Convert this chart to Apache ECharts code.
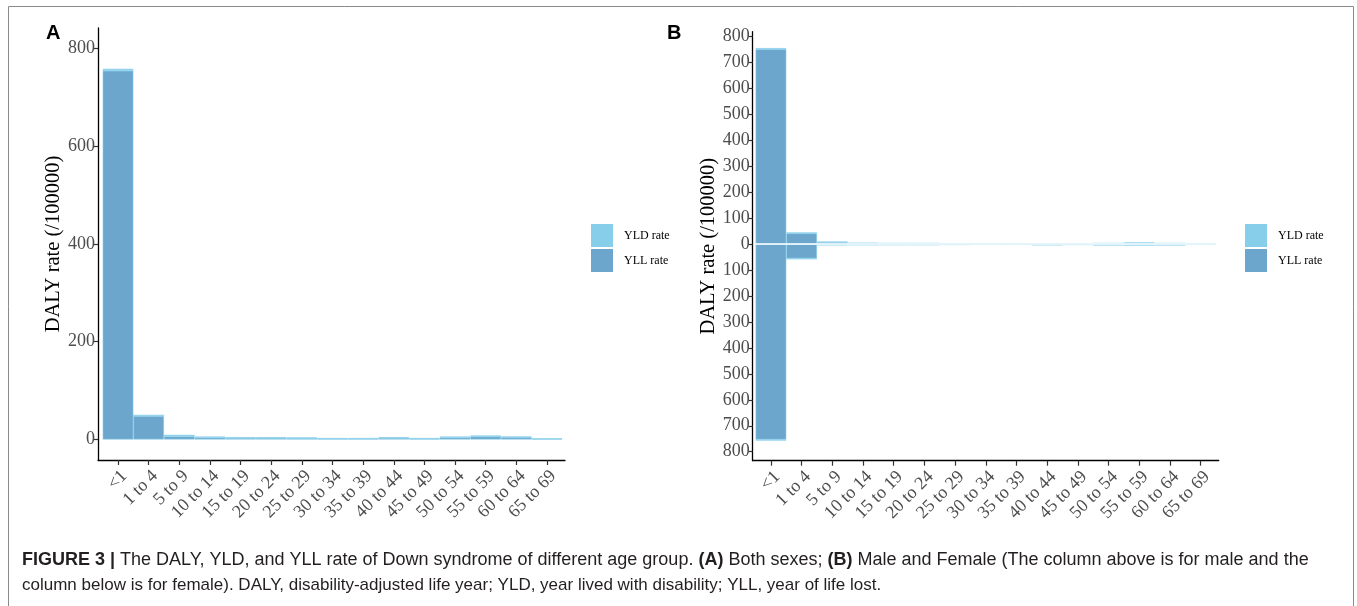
<!DOCTYPE html>
<html>
<head>
<meta charset="utf-8">
<script src="https://cdn.jsdelivr.net/npm/echarts@6/dist/echarts.min.js"></script>
<style>
html,body{margin:0;padding:0;background:#fff;}
#chart{width:1357px;height:606px;}
</style>
</head>
<body>
<div id="chart"></div>
<script>
// ---------- data ----------
const categories = ['<1','1 to 4','5 to 9','10 to 14','15 to 19','20 to 24','25 to 29','30 to 34','35 to 39','40 to 44','45 to 49','50 to 54','55 to 59','60 to 64','65 to 69'];
// Panel A: both sexes
const yllBoth = [754, 48, 6.5, 4, 3, 3, 2.5, 1.7, 1.7, 3, 1.7, 4, 6, 4.5, 1.2];
const yldBoth = [4, 2.5, 3, 2, 1.8, 1.8, 1.6, 1, 1, 1.8, 1, 2, 2.2, 1.6, 0.8];
// Panel B: male (above) and female (below, negative)
const yllMale = [752, 42, 7, 3, 2.5, 2.5, 1, 0.5, 0.8, 1.8, 1, 2.5, 4.5, 2.5, 0.2];
const yldMale = [4, 3, 3, 2, 1.5, 1.5, 1, 0.5, 0.7, 1.2, 1, 1.5, 1.5, 1.5, 0.1];
const yllFemale = [-753, -55, -2, -1.5, -1.5, -1.5, -1, -0.5, -0.8, -2, -1, -2.5, -3, -2.5, -0.2];
const yldFemale = [-4, -3, -1.5, -1.5, -1.2, -1.2, -1, -0.5, -0.7, -1.2, -1, -1.5, -1.5, -1.5, -0.1];
const yTicksA = [0, 800, 200];   // min, max, step
const yTicksB = [-800, 800, 100];
const legendNames = ['YLD rate', 'YLL rate'];
const axisTitle = 'DALY rate (/100000)';

// ---------- styles ----------
const C_YLD = '#87CEEB', C_YLL = '#6CA6CD';
const SERIF = 'Liberation Serif';
const tickLabel = {fontFamily: SERIF, fontSize: 18, color: '#4D4D4D'};

function frameX(gi){ return {gridIndex: gi, type: 'value', min: 0, max: 1,
  axisLine: {show: true, onZero: false, lineStyle: {color: '#000', width: 1.3}},
  axisTick: {show: false}, axisLabel: {show: false}, splitLine: {show: false}}; }
function frameY(gi){ return {gridIndex: gi, type: 'value', min: 0, max: 1,
  axisLine: {show: true, onZero: false, lineStyle: {color: '#000', width: 1.3}},
  axisTick: {show: false}, axisLabel: {show: false}, splitLine: {show: false},
  name: axisTitle, nameLocation: 'middle', nameGap: 34,
  nameTextStyle: {fontFamily: SERIF, fontSize: 20.5, color: '#000'}}; }
function catX(gi, off){ return {gridIndex: gi, type: 'category', data: categories, offset: off,
  axisLine: {show: false, onZero: false},
  axisTick: {show: true, alignWithLabel: true, length: 5, lineStyle: {color: '#333', width: 1.2}},
  axisLabel: Object.assign({interval: 0, rotate: 45, margin: 7, verticalAlign: 'top'}, tickLabel),
  splitLine: {show: false}}; }
function valY(gi, t, off, absLabels){ return {gridIndex: gi, type: 'value', min: t[0], max: t[1], interval: t[2], offset: off,
  axisLine: {show: false},
  axisTick: {show: true, length: 4, lineStyle: {color: '#333', width: 1.2}},
  axisLabel: Object.assign({margin: 3, formatter: v => absLabels ? String(Math.abs(v)) : String(v)}, tickLabel),
  splitLine: {show: false}}; }

function bar(name, data, xi, yi, stack, color, extra){
  return Object.assign({name, type: 'bar', data, xAxisIndex: xi, yAxisIndex: yi, stack,
    barCategoryGap: '0%', barGap: '0%',
    itemStyle: {color, borderColor: C_YLD, borderWidth: 0.6},
    emphasis: {disabled: true}, animation: false}, extra || {});
}

const legendBase = {orient: 'vertical', data: legendNames, icon: 'rect', itemWidth: 22, itemHeight: 23, itemGap: 2,
  padding: 0, selectedMode: false, itemStyle: {borderWidth: 0},
  textStyle: {fontFamily: SERIF, fontSize: 12, color: '#000', padding: [0, 0, 0, 6]}};

const option = {
  backgroundColor: '#fff',
  animation: false,
  grid: [
    {left: 98, top: 28, width: 467, height: 432},
    {left: 102.7, top: 48.3, width: 459.6, height: 391.2},
    {left: 752.7, top: 31.7, width: 466, height: 429},
    {left: 755.6, top: 36.7, width: 460.4, height: 415}
  ],
  xAxis: [frameX(0), catX(1, 20.5), frameX(2), catX(3, 9)],
  yAxis: [frameY(0), valY(1, yTicksA, 4.7, false), frameY(2), valY(3, yTicksB, 2.9, true)],
  legend: [
    Object.assign({left: 591, top: 224}, legendBase),
    Object.assign({left: 1245, top: 224}, legendBase)
  ],
  series: [
    bar('YLL rate', yllBoth, 1, 1, 'A', C_YLL),
    bar('YLD rate', yldBoth, 1, 1, 'A', C_YLD),
    bar('YLL rate', yllMale, 3, 3, 'B', C_YLL, {markLine: {silent: true, symbol: 'none', label: {show: false},
      lineStyle: {color: '#fff', width: 1.6, type: 'solid'}, data: [{yAxis: 0}]}}),
    bar('YLD rate', yldMale, 3, 3, 'B', C_YLD),
    bar('YLL rate', yllFemale, 3, 3, 'B', C_YLL),
    bar('YLD rate', yldFemale, 3, 3, 'B', C_YLD)
  ],
  graphic: [
    {type: 'rect', shape: {x: 8.5, y: 6.5, width: 1345, height: 620}, style: {fill: 'none', stroke: '#8a8a8a', lineWidth: 1}, silent: true},
    {type: 'text', left: 46, top: 23, style: {text: 'A', font: 'bold 20px "Liberation Sans"', fill: '#000'}},
    {type: 'text', left: 667, top: 23, style: {text: 'B', font: 'bold 20px "Liberation Sans"', fill: '#000'}},
    {type: 'text', left: 22, top: 551, style: {
      text: '{b|FIGURE 3 |} The DALY, YLD, and YLL rate of Down syndrome of different age group. {b|(A)} Both sexes; {b|(B)} Male and Female (The column above is for male and the',
      font: '18px "Liberation Sans"', fill: '#231F20',
      rich: {b: {fontWeight: 'bold', fontFamily: 'Liberation Sans', fontSize: 18, fill: '#231F20'}}}},
    {type: 'text', left: 22, top: 577, style: {
      text: 'column below is for female). DALY, disability-adjusted life year; YLD, year lived with disability; YLL, year of life lost.',
      font: '17px "Liberation Sans"', fill: '#231F20'}}
  ]
};

const chart = echarts.init(document.getElementById('chart'), null, {renderer: 'canvas'});
chart.setOption(option);
</script>
</body>
</html>
